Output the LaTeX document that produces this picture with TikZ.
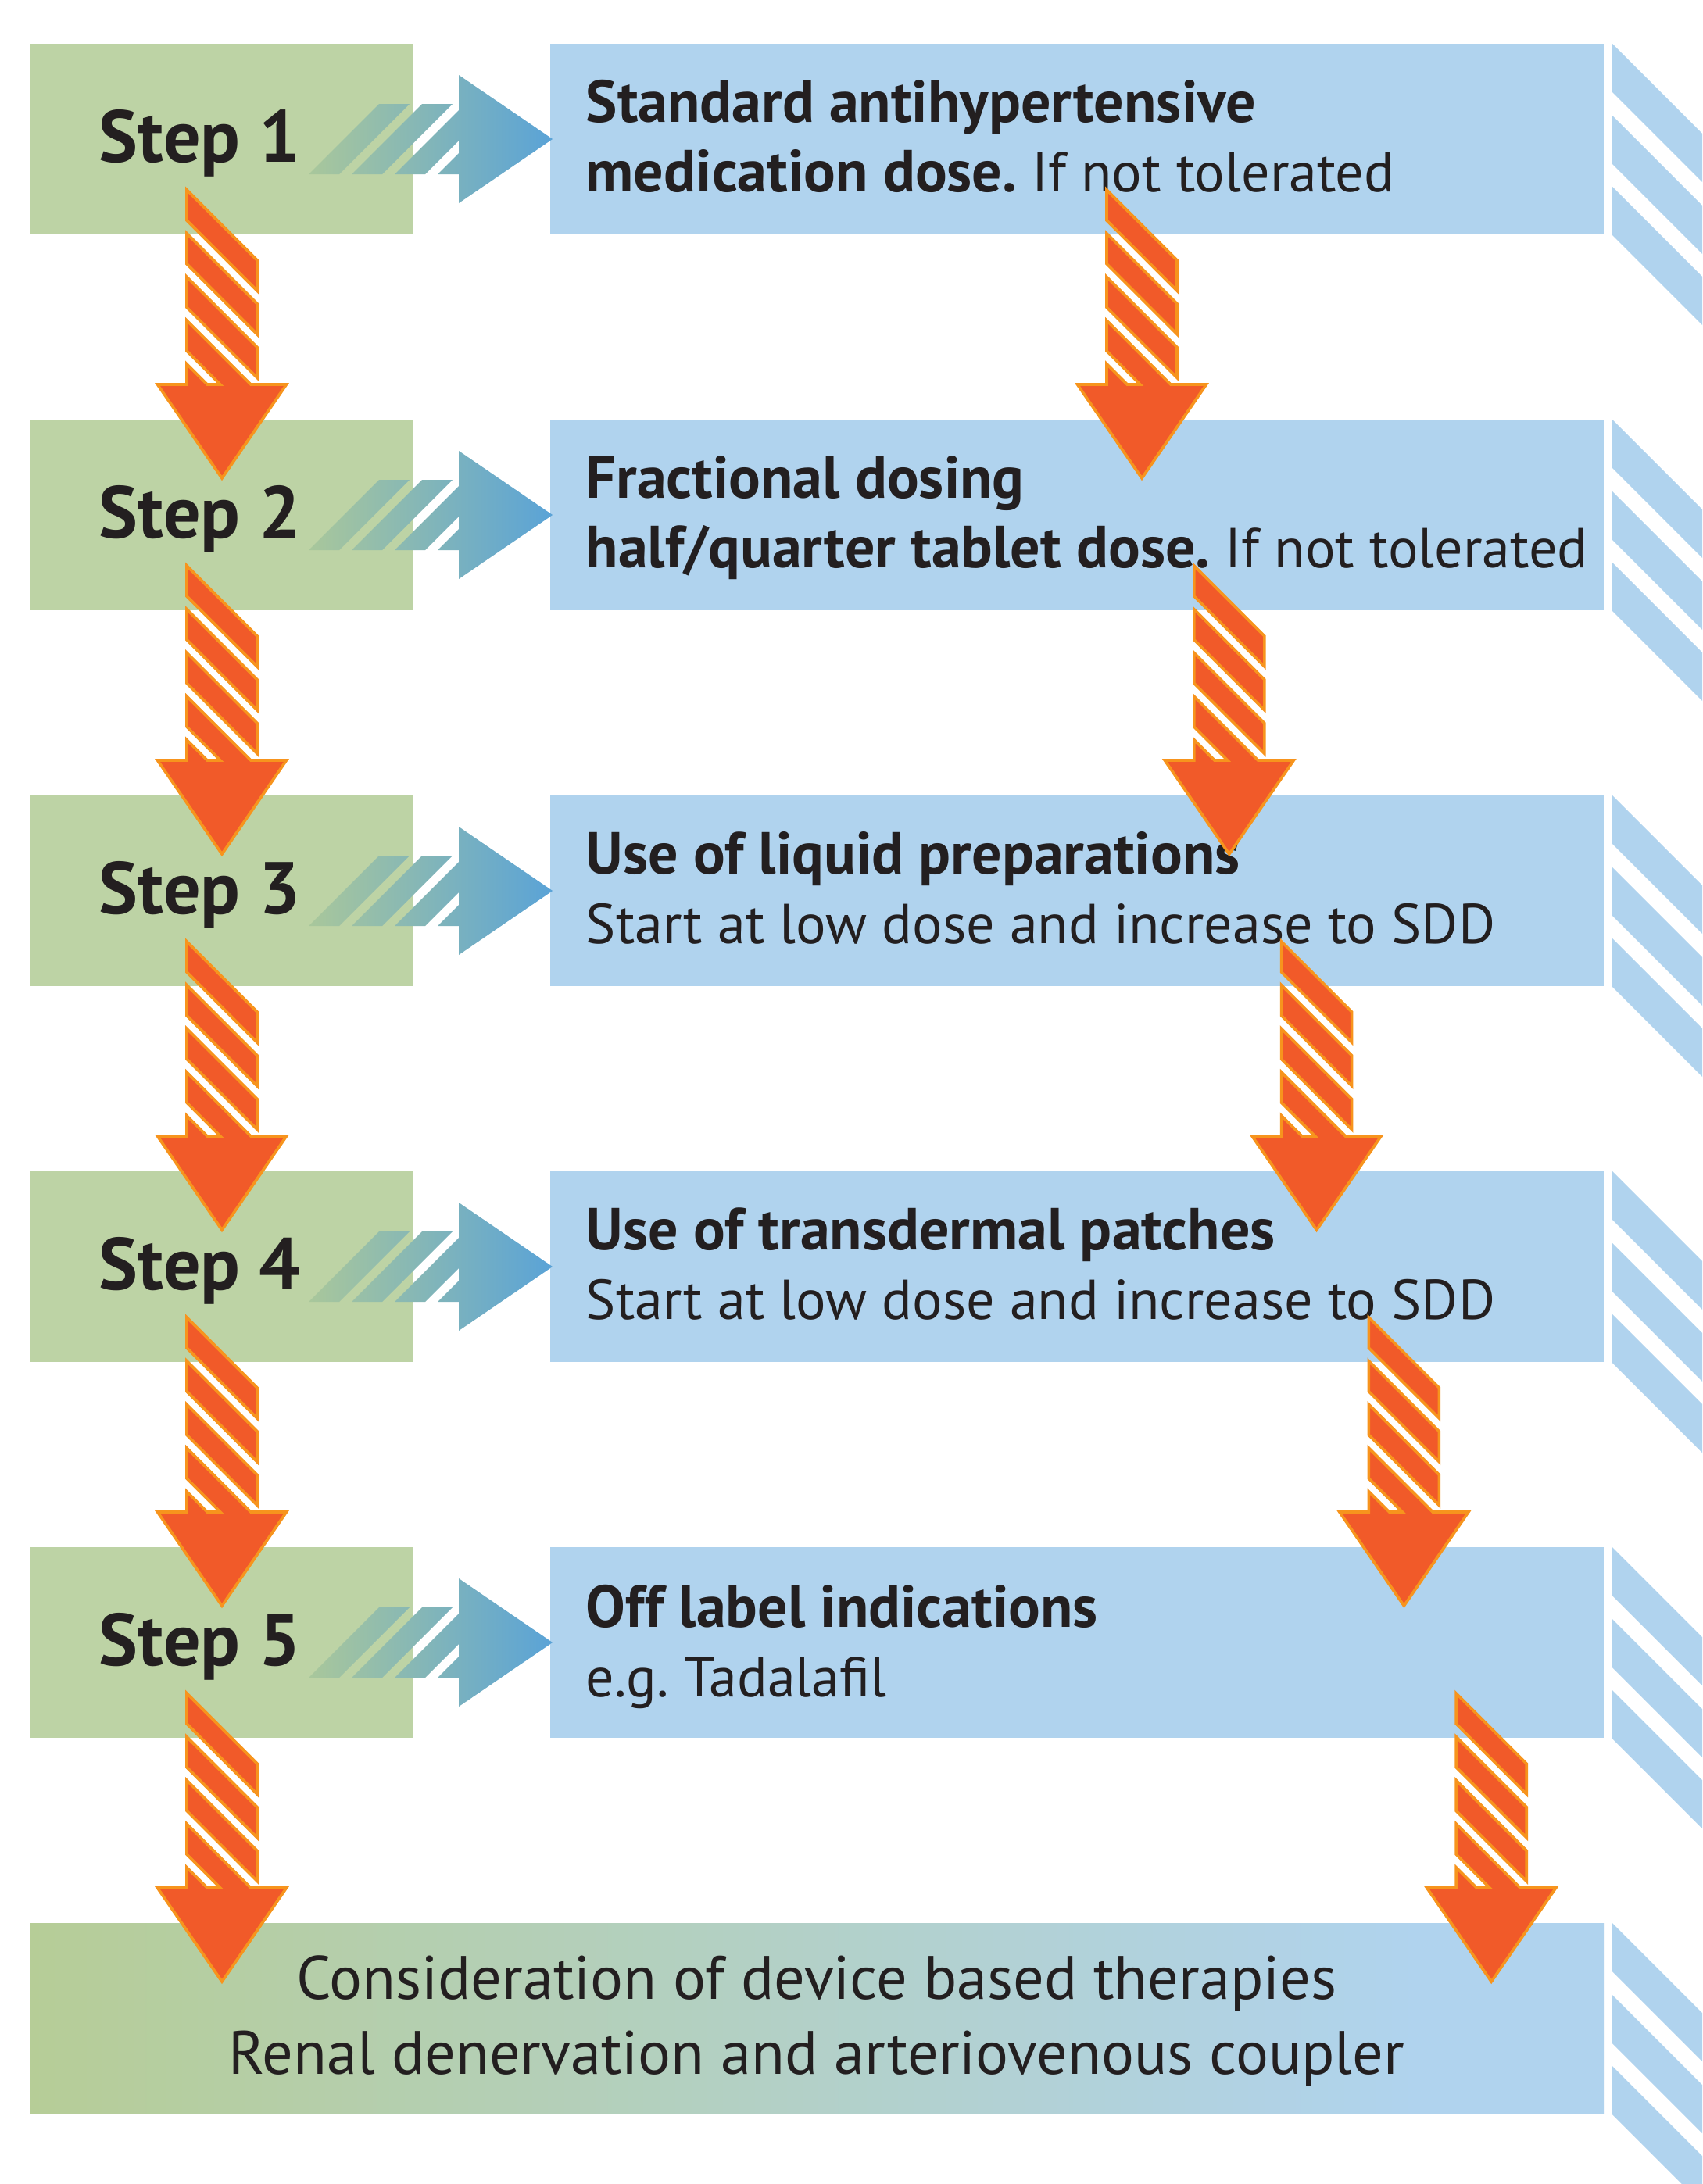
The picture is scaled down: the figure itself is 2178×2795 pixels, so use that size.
\documentclass[tikz,border=0pt]{standalone}
\usepackage{fontspec}
\setmainfont{PT Sans}
\frenchspacing
\definecolor{boxgreen}{HTML}{BDD3A5}
\definecolor{boxblue}{HTML}{B0D3EE}
\definecolor{orfill}{HTML}{F15A29}
\definecolor{oredge}{HTML}{F7941D}
\definecolor{txt}{HTML}{231F20}
\definecolor{agreen}{HTML}{A9C79B}
\definecolor{ablue}{HTML}{5AA3D7}
\definecolor{bgreen}{HTML}{B6CD97}
\pgfdeclarehorizontalshading{gbshade}{100bp}{color(0bp)=(bgreen); color(25bp)=(bgreen); color(69bp)=(boxblue); color(100bp)=(boxblue)}
\newcommand{\bodybf}[1]{{\fontsize{19pt}{22pt}\selectfont\bfseries #1}}
\tikzset{
  greenbox/.style={fill=boxgreen, inner sep=0pt, outer sep=0pt, minimum width=122.75pt, minimum height=61pt, anchor=north west},
  bluebox/.style={fill=boxblue, inner sep=0pt, outer sep=0pt, minimum width=337pt, minimum height=61pt, anchor=north west},
  finalbox/.style={shade, shading=gbshade, inner sep=0pt, outer sep=0pt, minimum width=503.25pt, minimum height=60.75pt, anchor=north west},
  steptext/.style={anchor=base west, inner sep=0pt, text=txt, font=\fontsize{23.5pt}{28pt}\selectfont\bfseries},
  bodytext/.style={anchor=base west, inner sep=0pt, text=txt, font=\fontsize{18pt}{22pt}\selectfont},
  centertext/.style={anchor=base, inner sep=0pt, text=txt, font=\fontsize{19.6pt}{23pt}\selectfont},
  orangestyle/.style={fill=orfill, draw=oredge, line width=0.9pt, line join=miter},
  stripestyle/.style={fill=boxblue},
  orangearrow/.pic={
    \path[orangestyle] (-45,0) -- (45,90) -- (45,129) -- (-45,39) -- cycle;
    \path[orangestyle] (-45,55.7) -- (45,145.7) -- (45,184.7) -- (-45,94.7) -- cycle;
    \path[orangestyle] (-45,111.4) -- (45,201.4) -- (45,240.4) -- (-45,150.4) -- cycle;
    \path[orangestyle] (-82.5,249) -- (-45,249) -- (-45,222.8) -- (-18.8,249) -- (-2.1,249)
      -- (-45,206.1) -- (-45,167.1) -- (36.9,249) -- (82.5,249) -- (0,369) -- cycle;
  },
  steparrow/.pic={
    \begin{scope}
      \clip (395,167) -- (434,167) -- (524,77) -- (485,77) -- cycle
            (450,167) -- (489,167) -- (579,77) -- (540,77) -- cycle
            (505,167) -- (544,167) -- (587,124) -- (587,140) -- (560,167) -- (587,167)
              -- (587,204) -- (707,122) -- (587,40) -- (587,85) -- cycle;
      \shade[left color=agreen, right color=ablue] (395,40) rectangle (707,204);
    \end{scope}
  },
  sidestripes/.pic={
    \foreach \o in {0,92,183}{
      \path[stripestyle] (2063,\o) -- (2178,\o+115) -- (2178,\o+177) -- (2063,\o+62) -- cycle;
    }
  }
}
\begin{document}
\begin{tikzpicture}[x=0.25pt,y=-0.25pt]
\useasboundingbox (0,0) rectangle (2178,2795);
\clip (0,0) rectangle (2178,2795);
\fill[white] (0,0) rectangle (2178,2795);

% boxes
\node[greenbox] (s1) at (38,56) {};
\node[greenbox] (s2) at (38,537) {};
\node[greenbox] (s3) at (38,1018) {};
\node[greenbox] (s4) at (38,1499) {};
\node[greenbox] (s5) at (38,1980) {};
\node[bluebox] (b1) at (704,56) {};
\node[bluebox] (b2) at (704,537) {};
\node[bluebox] (b3) at (704,1018) {};
\node[bluebox] (b4) at (704,1499) {};
\node[bluebox] (b5) at (704,1980) {};
\node[finalbox] (fin) at (39,2461) {};

% side stripes
\foreach \t in {56,537,1018,1499,1980,2461}{
  \pic at (0,\t) {sidestripes};
}

% step arrows
\foreach \t in {56,537,1018,1499,1980}{
  \pic at (0,\t) {steparrow};
}

% texts
\node[steptext] (st1) at (126,207) {Step 1};
\node[steptext] (st2) at (126,688) {Step 2};
\node[steptext] (st3) at (126,1169) {Step 3};
\node[steptext] (st4) at (126,1650) {Step 4};
\node[steptext] (st5) at (126,2131) {Step 5};

\node[bodytext] (t1a) at (749,156) {\bodybf{Standard antihypertensive}};
\node[bodytext] (t1b) at (749,245) {\bodybf{medication dose.} If not tolerated};
\node[bodytext] (t2a) at (749,637) {\bodybf{Fractional dosing}};
\node[bodytext] (t2b) at (749,726) {\bodybf{half/quarter tablet dose.} If not tolerated};
\node[bodytext] (t3a) at (749,1118) {\bodybf{Use of liquid preparations}};
\node[bodytext] (t3b) at (749,1207) {Start at low dose and increase to SDD};
\node[bodytext] (t4a) at (749,1599) {\bodybf{Use of transdermal patches}};
\node[bodytext] (t4b) at (749,1688) {Start at low dose and increase to SDD};
\node[bodytext] (t5a) at (749,2082) {\bodybf{Off label indications}};
\node[bodytext] (t5b) at (749,2171) {e.g. Tadalafil};

\node[centertext] (f1) at (1045,2558) {Consideration of device based therapies};
\node[centertext] (f2) at (1045,2654) {Renal denervation and arteriovenous coupler};

% orange arrows
\foreach \i in {0,...,4}{
  \pic at (284,243+481*\i) {orangearrow};
  \pic at (1461+111.8*\i,243+481*\i) {orangearrow};
}
\end{tikzpicture}
\end{document}
